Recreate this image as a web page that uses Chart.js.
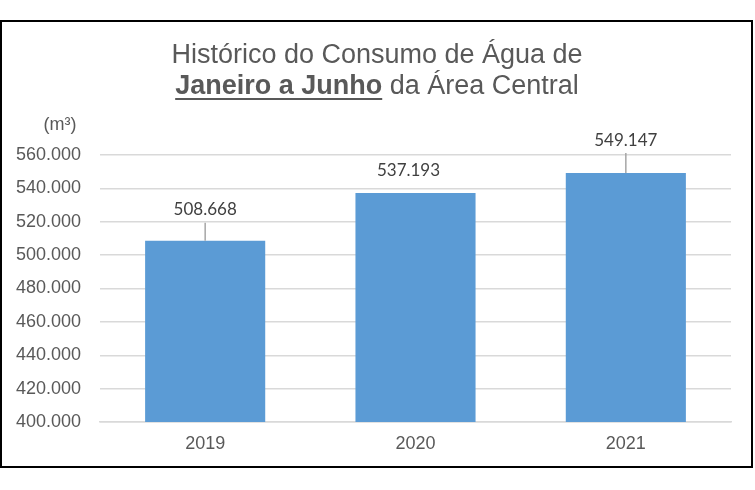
<!DOCTYPE html>
<html>
<head>
<meta charset="utf-8">
<script src="https://cdn.jsdelivr.net/npm/chart.js@4.4.1/dist/chart.umd.min.js"></script>
<style>
  html, body { margin: 0; padding: 0; background: #fff; }
  #wrap { position: relative; width: 755px; height: 490px; }
  #frame {
    position: absolute; left: 0; top: 20px; width: 749px; height: 444px;
    border: 2.5px solid #000; pointer-events: none;
  }
</style>
</head>
<body>
<div id="wrap">
  <canvas id="chart" width="755" height="490"></canvas>
  <div id="frame"></div>
</div>
<script>
/* ================= DATA ================= */
const years = ["2019", "2020", "2021"];
const consumo = [508668, 537193, 549147];
const yTicks = [400000, 420000, 440000, 460000, 480000, 500000, 520000, 540000, 560000];

const fmt = v => v.toLocaleString("de-DE");

/* ================= TITLE + LABELS ================= */
const extras = {
    id: "extras",
    afterDraw(chart) {
        const ctx = chart.ctx;
        ctx.save();

        // title, two lines, second one partly bold + underlined
        const cx = 377;
        ctx.fillStyle = "#595959";
        ctx.textBaseline = "alphabetic";
        ctx.font = "27px 'Liberation Sans', Arial, sans-serif";
        ctx.textAlign = "center";
        ctx.fillText("Histórico do Consumo de Água de", cx, 63);

        const boldPart = "Janeiro a Junho";
        const restPart = " da Área Central";
        ctx.textAlign = "left";
        ctx.font = "bold 27px 'Liberation Sans', Arial, sans-serif";
        const wb = ctx.measureText(boldPart).width;
        ctx.font = "27px 'Liberation Sans', Arial, sans-serif";
        const wr = ctx.measureText(restPart).width;
        const x0 = cx - (wb + wr) / 2;
        ctx.font = "bold 27px 'Liberation Sans', Arial, sans-serif";
        ctx.fillText(boldPart, x0, 94);
        ctx.fillRect(x0, 98, wb, 2);
        ctx.font = "27px 'Liberation Sans', Arial, sans-serif";
        ctx.fillText(restPart, x0 + wb, 94);

        // unit
        ctx.font = "18px 'Liberation Sans', Arial, sans-serif";
        ctx.textAlign = "center";
        ctx.textBaseline = "middle";
        ctx.fillText("(m³)", 60, 125);

        // data labels with leader lines
        const offsets = [31, 23, 33];
        const meta = chart.getDatasetMeta(0);
        ctx.font = "17px Lato, 'Noto Sans', sans-serif";
        meta.data.forEach((bar, i) => {
            const off = offsets[i];
            if (off > 26) {
                ctx.strokeStyle = "#a6a6a6";
                ctx.lineWidth = 1.5;
                ctx.beginPath();
                ctx.moveTo(bar.x, bar.y);
                ctx.lineTo(bar.x, bar.y - off + 13);
                ctx.stroke();
            }
            ctx.fillStyle = "#404040";
            ctx.fillText(fmt(consumo[i]), bar.x - (off > 26 ? 0 : 7), bar.y - off);
        });

        ctx.restore();
    }
};

/* ================= CHART ================= */
const ctx = document.getElementById("chart").getContext("2d");

new Chart(ctx, {
    type: "bar",
    data: {
        labels: years,
        datasets: [{
            label: "Consumo (m³)",
            data: consumo,
            backgroundColor: "#5b9bd5",
            categoryPercentage: 1,
            barPercentage: 0.571
        }]
    },
    options: {
        responsive: false,
        animation: false,
        layout: { padding: { left: 10, right: 24, top: 155, bottom: 0 } },
        plugins: {
            legend: { display: false },
            tooltip: { enabled: false }
        },
        scales: {
            x: {
                grid: { display: false, drawTicks: false },
                border: { color: "#d9d9d9", width: 1.5 },
                ticks: {
                    color: "#595959",
                    padding: 11,
                    font: { family: "'Liberation Sans', Arial, sans-serif", size: 18 }
                },
                afterFit(scale) { scale.height = 68; }
            },
            y: {
                min: yTicks[0],
                max: yTicks[yTicks.length - 1],
                afterBuildTicks(scale) {
                    scale.ticks = yTicks.map(v => ({ value: v }));
                },
                grid: { color: "#d9d9d9", lineWidth: 1.5, drawTicks: false },
                border: { display: false },
                ticks: {
                    color: "#595959",
                    padding: 19,
                    font: { family: "'Liberation Sans', Arial, sans-serif", size: 18 },
                    callback: v => fmt(v)
                },
                afterFit(scale) { scale.width = 90; }
            }
        }
    },
    plugins: [extras]
});
</script>
</body>
</html>
